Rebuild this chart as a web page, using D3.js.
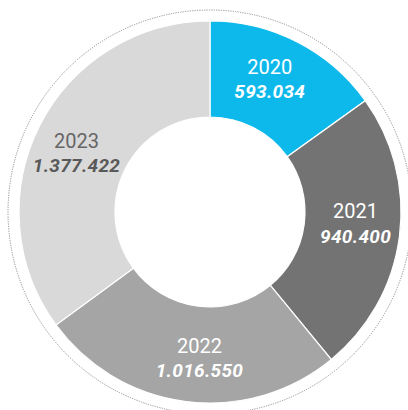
<!DOCTYPE html>
<html><head><meta charset="utf-8">
<script src="https://cdn.jsdelivr.net/npm/d3@7"></script>
<style>html,body{margin:0;padding:0;background:#fff;}svg{display:block;}</style>
</head><body>
<svg id="c" width="408" height="410"></svg>
<script>
const years = ["2020", "2021", "2022", "2023"];
const values = [593034, 940400, 1016550, 1377422];
const valueLabels = ["593.034", "940.400", "1.016.550", "1.377.422"];
const colors = ["#0DB9EB", "#737373", "#A5A5A5", "#D9D9D9"];
const yearColors = ["#ffffff", "#ffffff", "#ffffff", "#666666"];
const valueColors = ["#ffffff", "#ffffff", "#ffffff", "#595959"];

const cx = 210, cy = 212, rOuter = 191, rInner = 95, rDots = 202, rLabel = 146;
const svg = d3.select("#c");
const g = svg.append("g").attr("transform", `translate(${cx},${cy})`);

g.append("circle").attr("r", rDots).attr("fill", "none")
  .attr("stroke", "#777").attr("stroke-width", 0.8).attr("stroke-dasharray", "1.2,1.2");

const data = years.map((y, i) => ({year: y, value: values[i], label: valueLabels[i], i}));
const pie = d3.pie().value(d => d.value).sort(null);
const arcs = pie(data);
const arc = d3.arc().innerRadius(rInner).outerRadius(rOuter);

g.selectAll("path.slice").data(arcs).join("path")
  .attr("class", "slice")
  .attr("d", arc)
  .attr("fill", d => colors[d.data.i])
  .attr("stroke", "#fff").attr("stroke-width", 1.2);

const off = -3 * Math.PI / 180;
arcs.forEach(a => {
  const ang = (a.startAngle + a.endAngle) / 2 + off;
  const x = rLabel * Math.sin(ang), y = -rLabel * Math.cos(ang);
  const t = g.append("g").attr("transform", `translate(${x},${y})`);
  t.append("text").attr("text-anchor", "middle").attr("y", -5)
    .attr("font-family", "Roboto").attr("font-size", 20).attr("font-weight", 400)
    .attr("fill", yearColors[a.data.i]).text(a.data.year);
  t.append("text").attr("text-anchor", "middle").attr("y", 19.5)
    .attr("font-family", "Roboto").attr("font-size", 19)
    .attr("font-weight", 700).attr("font-style", "italic").attr("letter-spacing", 0.3)
    .attr("fill", valueColors[a.data.i]).text(a.data.label);
});
</script>
</body></html>
